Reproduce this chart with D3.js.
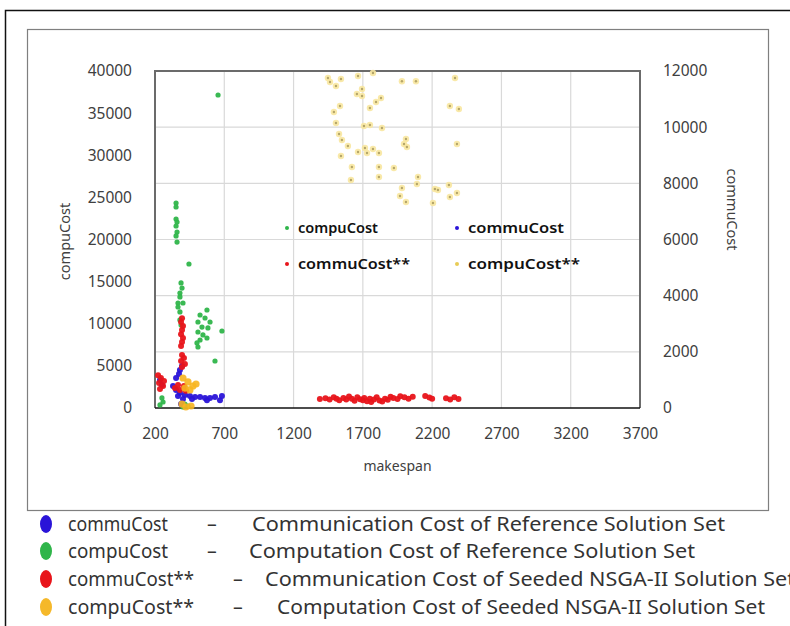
<!DOCTYPE html>
<html><head><meta charset="utf-8">
<script src="https://cdn.jsdelivr.net/npm/d3@7"></script>
<style>body{margin:0;background:#fff}svg{display:block}</style>
</head><body>
<script>
// ---------- data ----------
const xTicks = [200, 700, 1200, 1700, 2200, 2700, 3200, 3700];
const leftTicks = [0, 5000, 10000, 15000, 20000, 25000, 30000, 35000, 40000];
const rightTicks = [0, 2000, 4000, 6000, 8000, 10000, 12000];

// compuCost of reference set: [makespan, compuCost] (left axis)
const compuRef = [[655,37150],[352,24330],[352,23860],[352,22430],[359,22080],[352,21600],[359,20890],[352,20420],[359,19700],
  [445,17090],[388,14840],[395,14240],[380,13650],[380,13180],[366,12460],[402,12460],[366,11990],[380,11400],[380,10450],[388,9850],
  [525,11040],[575,11630],[510,10210],[539,9610],[582,9500],[510,9020],[546,8670],[525,8070],[503,7720],[575,8310],[597,10210],
  [561,10680],[683,9140],[510,7240],[633,5580],[258,710],[236,360],[250,1190],[402,120],[438,240],[416,470]];
// commuCost of reference set: [makespan, commuCost] (right axis)
const commuRef = [[380,1350],[395,1500],[373,1210],[352,1070],[330,780],[352,640],[380,530],[416,460],[452,430],[489,390],
  [525,390],[561,360],[597,360],[633,390],[669,280],[683,430],[366,430],[402,320],[467,320],[575,280],[236,1000],[250,820],[388,140]];
// commuCost** of seeded NSGA-II set (right axis)
const commuSeed = [[395,3200],[388,3060],[402,2920],[395,2780],[388,2630],[402,2490],[395,2350],[388,2210],[395,1890],[409,1780],
  [388,1670],[416,1570],[395,1460],[222,1170],[243,1070],[265,960],[229,890],[258,780],[236,680],[344,710],[380,640],[423,610],
  [366,820],[409,780],
  [1390,320],[1430,350],[1460,300],[1490,380],[1510,330],[1530,280],[1560,360],[1580,300],[1600,410],[1620,330],[1640,260],
  [1660,380],[1680,310],[1700,280],[1710,360],[1730,240],[1750,330],[1760,210],[1780,300],[1800,380],[1820,270],[1840,230],
  [1860,330],[1880,290],[1900,400],[1920,360],[1950,320],[1970,420],[2000,380],[2030,330],[2060,400],[2150,430],[2180,370],
  [2200,330],[2300,350],[2330,300],[2360,380],[2390,320]];
// compuCost** of seeded NSGA-II set (left axis)
const compuSeed = [[402,3560],[438,3090],[474,2610],[416,2370],[452,2140],[496,2850],[395,470],[423,120],[460,240],
  [1448,39170],[1463,38700],[1506,38220],[1542,39050],[1665,39400],[1773,39760],[1694,37870],[1657,37270],[1694,37040],
  [1982,38790],[2083,38790],[2365,39170],[1535,35850],[1491,35140],[1506,33830],[1751,35610],[1795,36320],[1831,36800],
  [1708,33470],[1751,33590],[1838,33240],[2328,35850],[2393,35490],[1528,32520],[1549,31810],[1592,31100],[2011,31930],
  [1997,31340],[2018,30980],[1715,30860],[1665,30390],[1730,30270],[1773,30740],[1816,30270],[2379,31340],[1542,29910],
  [1621,28610],[1816,28610],[1924,28490],[1816,27420],[1614,27060],[2098,27420],[2090,26590],[1982,26110],[1968,25160],
  [2011,24450],[2220,26000],[2242,25880],[2321,26470],[2379,25520],[2328,25050],[2206,24330]];

const legendItems = [
  {name: "commuCost", desc: "Communication Cost of Reference Solution Set", color: "#2a14d8"},
  {name: "compuCost", desc: "Computation Cost of Reference Solution Set", color: "#2fb54a"},
  {name: "commuCost**", desc: "Communication Cost of Seeded NSGA-II Solution Set", color: "#e8141a"},
  {name: "compuCost**", desc: "Computation Cost of Seeded NSGA-II Solution Set", color: "#f5b82a"}
];
const inLegend = [
  {name: "compuCost", color: "#2fb54a"}, {name: "commuCost", color: "#2a14d8"},
  {name: "commuCost**", color: "#e8141a"}, {name: "compuCost**", color: "#e8cc55"}
];

// ---------- drawing ----------
const W = 790, H = 626;
const svg = d3.select("body").append("svg").attr("width", W).attr("height", H);
const font = "'Noto Sans', 'Open Sans', sans-serif";

// outer frame
svg.append("rect").attr("x", 5.5).attr("y", 10.5).attr("width", 800).attr("height", 700)
  .attr("fill", "none").attr("stroke", "#111").attr("stroke-width", 1.5);
// chart area frame
svg.append("rect").attr("x", 27.5).attr("y", 29.5).attr("width", 741).attr("height", 481)
  .attr("fill", "#fff").attr("stroke", "#7f7f7f").attr("stroke-width", 1.2);

const L = 155, R = 640, T = 71, B = 408;
const x = d3.scaleLinear().domain([200, 3700]).range([L, R]);
const yL = d3.scaleLinear().domain([0, 40000]).range([B, T]);
const yR = d3.scaleLinear().domain([0, 12000]).range([B, T]);

const g = svg.append("g");
// gridlines
g.selectAll(".vg").data(xTicks.slice(1, -1)).join("line")
  .attr("x1", d => x(d)).attr("x2", d => x(d)).attr("y1", T).attr("y2", B)
  .attr("stroke", "#d9d9d9").attr("stroke-width", 1.2);
g.selectAll(".hg").data(rightTicks.slice(1, -1)).join("line")
  .attr("x1", L).attr("x2", R).attr("y1", d => yR(d)).attr("y2", d => yR(d))
  .attr("stroke", "#d9d9d9").attr("stroke-width", 1.2);

// plot border (top, left, right)
g.append("path").attr("d", `M${L},${B}V${T}H${R}V${B}`).attr("fill", "none")
  .attr("stroke", "#6b6b6b").attr("stroke-width", 2);

// axes
const tickStyle = sel => {
  sel.select(".domain").remove();
  sel.selectAll(".tick line").remove();
  sel.selectAll("text").attr("font-family", font).attr("font-size", 15.5).attr("fill", "#404040");
};
svg.append("g").attr("transform", `translate(0,${B})`)
  .call(d3.axisBottom(x).tickValues(xTicks).tickFormat(d3.format("d")).tickPadding(14))
  .call(tickStyle);
svg.append("g").attr("transform", `translate(${L},0)`)
  .call(d3.axisLeft(yL).tickValues(leftTicks).tickFormat(d3.format("d")).tickPadding(17))
  .call(tickStyle);
svg.append("g").attr("transform", `translate(${R},0)`)
  .call(d3.axisRight(yR).tickValues(rightTicks).tickFormat(d3.format("d")).tickPadding(17))
  .call(tickStyle);
// bottom axis line
svg.append("line").attr("x1", L).attr("x2", R).attr("y1", B).attr("y2", B)
  .attr("stroke", "#111").attr("stroke-width", 1.6);

// axis titles
svg.append("text").attr("transform", `translate(70,${(T + B) / 2 + 2}) rotate(-90)`)
  .attr("text-anchor", "middle").attr("font-family", font).attr("font-size", 14.5).attr("fill", "#404040").text("compuCost");
svg.append("text").attr("transform", `translate(727,${(T + B) / 2 - 30}) rotate(90)`)
  .attr("text-anchor", "middle").attr("font-family", font).attr("font-size", 14.5).attr("fill", "#404040").text("commuCost");
svg.append("text").attr("x", (L + R) / 2).attr("y", 471)
  .attr("text-anchor", "middle").attr("font-family", font).attr("font-size", 14).attr("fill", "#404040").text("makespan");

// points
const pts = svg.append("g");
function drawSeries(data, y, color, r, op) {
  pts.append("g").selectAll("circle").data(data).join("circle")
    .attr("cx", d => x(d[0])).attr("cy", d => y(d[1])).attr("r", r)
    .attr("fill", color).attr("fill-opacity", op);
}
drawSeries(compuRef, yL, "#2fb54a", 2.6, 0.95);
drawSeries(commuRef, yR, "#2a14d8", 3, 0.95);
drawSeries(commuSeed, yR, "#e8141a", 3, 0.95);
// yellow: halo + center
pts.append("g").selectAll("circle").data(compuSeed).join("circle")
  .attr("cx", d => x(d[0])).attr("cy", d => yL(d[1])).attr("r", d => d[0] < 1000 ? 3.6 : 3.2)
  .attr("fill", d => d[0] < 1000 ? "#f7b51f" : "#f8e7a0").attr("fill-opacity", 0.9);
pts.append("g").selectAll("circle").data(compuSeed.filter(d => d[0] >= 1000)).join("circle")
  .attr("cx", d => x(d[0])).attr("cy", d => yL(d[1])).attr("r", 1.2)
  .attr("fill", "#b5a66a");

// in-plot legend
const ilg = svg.append("g");
const ilgLen = [80, 96, 112, 112];
inLegend.forEach((d, i) => {
  const cx = i % 2 === 0 ? 287 : 457;
  const cy = i < 2 ? 228 : 264;
  ilg.append("circle").attr("cx", cx).attr("cy", cy).attr("r", 2).attr("fill", d.color);
  ilg.append("text").attr("x", cx + 11).attr("y", cy + 5).attr("font-family", font)
    .attr("font-size", 14.5).attr("font-weight", 600).attr("fill", "#111")
    .attr("textLength", ilgLen[i]).attr("lengthAdjust", "spacingAndGlyphs").text(d.name);
});

// bottom legend
const blg = svg.append("g");
const rowsY = [524, 551, 579, 607];
const dashX = [207, 207, 233, 233];
const descX = [252, 249, 265, 277];
const nameLen = [100, 100, 126, 126];
const descLen = [473, 446, 530, 488];
legendItems.forEach((d, i) => {
  const cy = rowsY[i];
  blg.append("ellipse").attr("cx", 46).attr("cy", cy).attr("rx", 6).attr("ry", 9).attr("fill", d.color);
  blg.append("text").attr("x", 68).attr("y", cy + 7).attr("font-family", font).attr("font-size", 19.5)
    .attr("fill", "#333").attr("textLength", nameLen[i]).attr("lengthAdjust", "spacingAndGlyphs").text(d.name);
  blg.append("text").attr("x", dashX[i]).attr("y", cy + 7).attr("font-family", font).attr("font-size", 19.5)
    .attr("fill", "#333").text("–");
  blg.append("text").attr("x", descX[i]).attr("y", cy + 7).attr("font-family", font).attr("font-size", 19.5)
    .attr("fill", "#333").attr("textLength", descLen[i]).attr("lengthAdjust", "spacingAndGlyphs").text(d.desc);
});
</script>
</body></html>
